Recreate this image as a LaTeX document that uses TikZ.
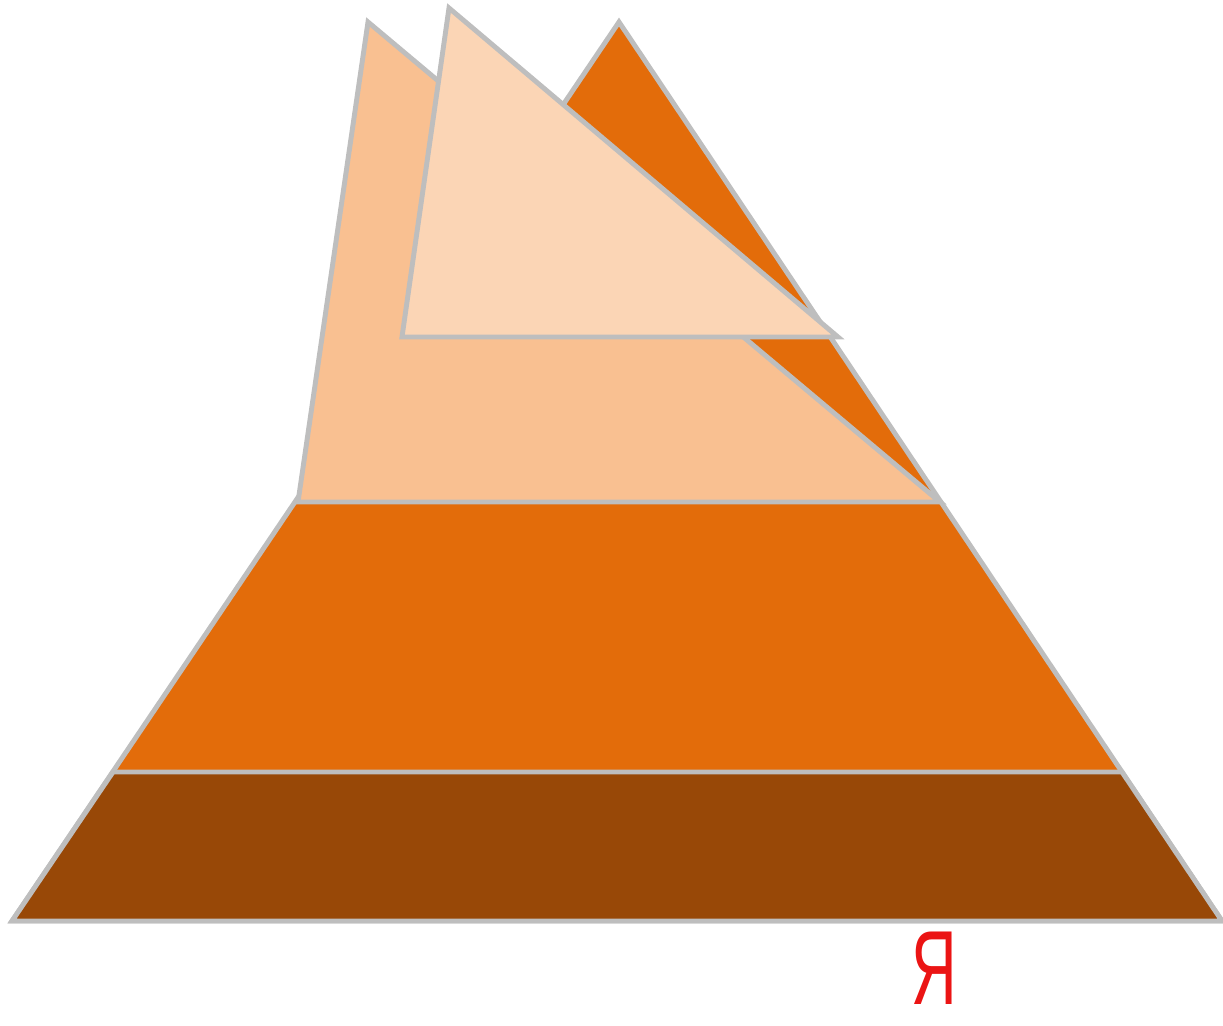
\documentclass[tikz,border=0pt]{standalone}
\usepackage{fontspec}
\setmainfont{Liberation Sans}
\usetikzlibrary{positioning}
\definecolor{edgegray}{RGB}{190,190,190}
\definecolor{darkbrown}{RGB}{152,72,7}
\definecolor{midorange}{RGB}{227,108,10}
\definecolor{peach}{RGB}{249,192,145}
\definecolor{lightpeach}{RGB}{251,213,181}
\definecolor{logored}{RGB}{235,20,20}

\begin{document}
\begin{tikzpicture}[
        x=0.02cm, y=-0.02cm,
        layer/.style={draw=edgegray, line width=2.8pt, line join=miter},
        logo/.style={text=logored, inner sep=2pt, font=\fontsize{60}{60}\selectfont}
    ]
        \useasboundingbox (0,0) rectangle (1223,1025);

        % corners of the big pyramid
        \coordinate (apex) at (619,22);
        \coordinate (baseL) at (12,921);
        \coordinate (baseR) at (1222,921);
        \coordinate (lowL) at (113,772);
        \coordinate (lowR) at (1122,772);
        \coordinate (midL) at (298,502);
        \coordinate (midR) at (940,502);

        % tilted top pieces
        \coordinate (peachTop) at (368,22);
        \coordinate (tipTop) at (449,8);
        \coordinate (tipL) at (402,337);
        \coordinate (tipR) at (838,337);

        \filldraw[layer, fill=midorange] (apex) -- (baseR) -- (baseL) -- cycle;
        \filldraw[layer, fill=darkbrown] (lowL) -- (lowR) -- (baseR) -- (baseL) -- cycle;
        \filldraw[layer, fill=peach] (peachTop) -- (midR) -- (midL) -- cycle;
        \filldraw[layer, fill=lightpeach] (tipTop) -- (tipR) -- (tipL) -- cycle;

        \node[logo] (ya) at (934,968) {\scalebox{0.6}[1]{Я}};
    \end{tikzpicture}
\end{document}
